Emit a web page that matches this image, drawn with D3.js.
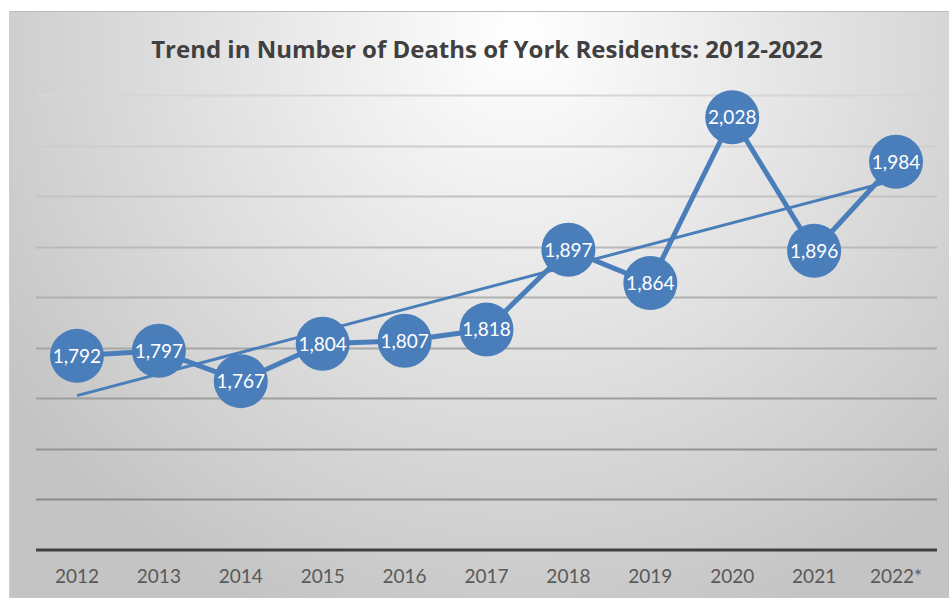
<!DOCTYPE html>
<html>
<head>
    <title>York deaths trend</title>
    <script src="https://cdn.jsdelivr.net/npm/d3@7"></script>
    <style>
        html, body { margin: 0; padding: 0; background: #ffffff; }
        svg { display: block; }
    </style>
</head>
<body>
<svg id="chart" width="949" height="598"></svg>
<script>
    // data
    const years = ["2012", "2013", "2014", "2015", "2016", "2017", "2018", "2019", "2020", "2021", "2022*"];
    const deaths = [1792, 1797, 1767, 1804, 1807, 1818, 1897, 1864, 2028, 1896, 1984];
    const yTicks = [1600, 1650, 1700, 1750, 1800, 1850, 1900, 1950, 2000, 2050];
    const chartTitle = "Trend in Number of Deaths of York Residents: 2012-2022";

    const width = 949, height = 598;
    const margin = {left: 36, right: 12, top: 95, bottom: 48};
    const blue = "#4a7ebb";

    const svg = d3.select('#chart');
    const defs = svg.append("defs");

    // Excel style radial gradient background
    const grad = defs.append("radialGradient")
        .attr("id", "bg")
        .attr("gradientUnits", "userSpaceOnUse")
        .attr("cx", 520).attr("cy", 40).attr("r", 620);
    grad.append("stop").attr("offset", "0%").attr("stop-color", "#ffffff");
    grad.append("stop").attr("offset", "100%").attr("stop-color", "#c4c4c4");

    svg.append("rect")
        .attr("x", 9).attr("y", 11)
        .attr("width", width - 9).attr("height", height - 11)
        .attr("fill", "url(#bg)");
    svg.append("line")
        .attr("x1", 9).attr("x2", width).attr("y1", 11.5).attr("y2", 11.5)
        .attr("stroke", "#bdbdbd").attr("stroke-width", 1);
    svg.append("line")
        .attr("x1", 9.5).attr("x2", 9.5).attr("y1", 11).attr("y2", height)
        .attr("stroke", "#cfcfcf").attr("stroke-width", 1);

    const x = d3.scaleBand()
        .domain(years)
        .range([margin.left, width - margin.right]);

    const y = d3.scaleLinear()
        .domain([1600, 2050])
        .range([height - margin.bottom, margin.top]);

    // gridlines, paler towards the top
    const gridColor = d3.scaleLinear().domain([2050, 1650]).range(["#d6d6d6", "#8a8a8a"]);
    svg.append("g")
        .selectAll("line")
        .data(yTicks.slice(1))
        .join("line")
        .attr("x1", margin.left).attr("x2", width - margin.right)
        .attr("y1", d => Math.round(y(d)) + 0.5).attr("y2", d => Math.round(y(d)) + 0.5)
        .attr("stroke", d => gridColor(d))
        .attr("stroke-width", 2);

    // x axis
    const xAxis = svg.append("g")
        .attr("transform", `translate(0, ${y(1600)})`)
        .call(d3.axisBottom(x).tickSize(0).tickPadding(0));
    xAxis.select(".domain")
        .attr("d", `M${margin.left},0H${width - margin.right}`)
        .attr("stroke", "#404040")
        .attr("stroke-width", 3);
    xAxis.selectAll("text")
        .attr("dy", "1.75em")
        .attr("fill", "#595959")
        .style("font-family", "Lato, 'Open Sans', sans-serif")
        .style("font-size", "19px");

    // linear trendline (least squares, like the spreadsheet one)
    const idx = deaths.map((d, i) => i);
    const mx = d3.mean(idx), my = d3.mean(deaths);
    const slope = d3.sum(idx, i => (i - mx) * (deaths[i] - my)) / d3.sum(idx, i => (i - mx) * (i - mx));
    const icpt = my - slope * mx;
    const cx = d => x(d) + x.bandwidth() / 2;

    svg.append("line")
        .attr("x1", cx(years[0])).attr("y1", y(icpt))
        .attr("x2", cx(years[years.length - 1])).attr("y2", y(icpt + slope * (years.length - 1)))
        .attr("stroke", blue).attr("stroke-width", 3);

    const line = d3.line()
        .x((d, i) => cx(years[i]))
        .y(d => y(d));

    svg.append("path")
        .datum(deaths)
        .attr("d", line)
        .attr("fill", "none")
        .attr("stroke", blue)
        .attr("stroke-width", 5)
        .attr("stroke-linejoin", "round");

    const pts = svg.append("g")
        .selectAll("g")
        .data(deaths)
        .join("g")
        .attr("transform", (d, i) => `translate(${cx(years[i])}, ${y(d)})`);

    pts.append("circle")
        .attr("r", 27)
        .attr("fill", blue);

    pts.append("text")
        .attr("text-anchor", "middle")
        .attr("dy", "0.36em")
        .attr("fill", "#ffffff")
        .style("font-family", "Lato, 'Open Sans', sans-serif")
        .style("font-size", "19px")
        .text(d => d3.format(",")(d));

    svg.append("text")
        .attr("x", 487)
        .attr("y", 58)
        .attr("text-anchor", "middle")
        .attr("fill", "#404040")
        .style("font-family", "'Open Sans', Lato, sans-serif")
        .style("font-weight", "bold")
        .style("font-size", "24px")
        .text(chartTitle);
</script>
</body>
</html>
